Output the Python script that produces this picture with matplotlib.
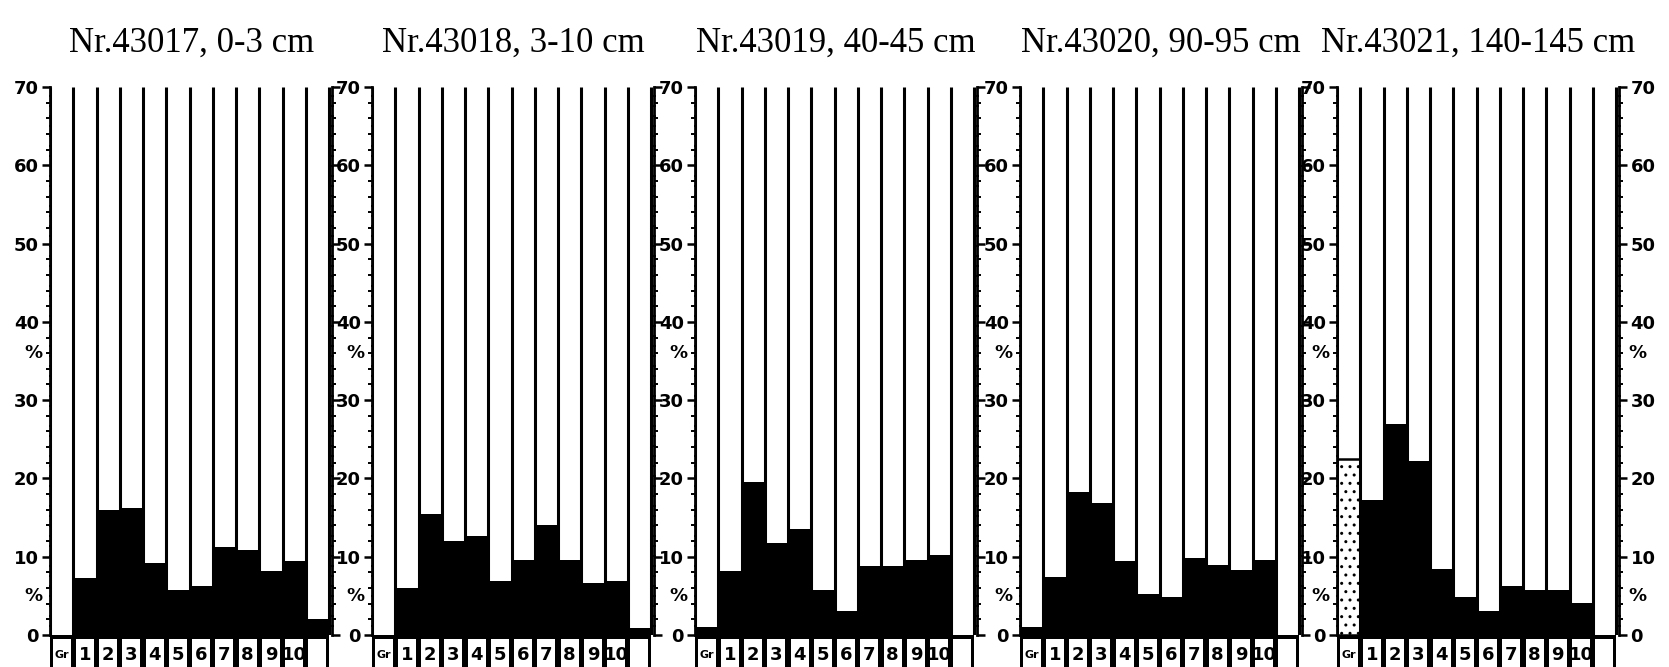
import matplotlib
matplotlib.use("Agg")
import matplotlib.pyplot as plt
from matplotlib.patches import Rectangle

# === DATA ===
fractions = ["Gr", "1", "2", "3", "4", "5", "6", "7", "8", "9", "10", ""]
titles = ["Nr.43017, 0-3 cm", "Nr.43018, 3-10 cm", "Nr.43019, 40-45 cm",
          "Nr.43020, 90-95 cm", "Nr.43021, 140-145 cm"]

# percentage per fraction (Gr, 1..10, rest)
nr43017 = [0.0, 7.3, 16.0, 16.2, 9.2, 5.8, 6.2, 11.3, 10.9, 8.2, 9.4, 2.0]
nr43018 = [0.0, 6.0, 15.5, 12.0, 12.6, 6.9, 9.6, 14.0, 9.6, 6.6, 6.9, 0.9]
nr43019 = [1.0, 8.2, 19.5, 11.8, 13.5, 5.7, 3.1, 8.8, 8.8, 9.6, 10.2, 0.0]
nr43020 = [1.0, 7.4, 18.3, 16.8, 9.4, 5.2, 4.8, 9.8, 8.9, 8.3, 9.6, 0.0]
nr43021 = [22.5, 17.3, 27.0, 22.2, 8.4, 4.9, 3.1, 6.3, 5.8, 5.7, 4.1, 0.0]
samples = [nr43017, nr43018, nr43019, nr43020, nr43021]
gravel_stippled = [False, False, False, False, True]

YMAX = 70

# === LAYOUT (pixels) ===
W, H = 1669, 667
panel_left = [50, 372, 695, 1020, 1337]
col_px = 23.25
x_lo, x_hi = -0.5, 11.65
y0_px, y70_px = 635, 87

plt.rcParams['font.family'] = ['DejaVu Sans']
fig = plt.figure(figsize=(W / 100, H / 100), dpi=100)
fig.patch.set_facecolor("white")

bottom = (H - y0_px) / H
height = (y0_px - y70_px) / H
width_px = (x_hi - x_lo) * col_px

for k, (vals, title) in enumerate(zip(samples, titles)):
    ax = fig.add_axes([panel_left[k] / W, bottom, width_px / W, height])
    xs = list(range(len(fractions)))

    # solid black columns; gravel is stippled where marked
    if gravel_stippled[k]:
        ax.bar(xs[1:], vals[1:], width=1.0, color="black", linewidth=0, zorder=2)
        ax.bar(xs[0], vals[0], width=1.0, color="white", edgecolor="black",
               hatch="..", linewidth=1.8, zorder=2)
    else:
        ax.bar(xs, vals, width=1.0, color="black", linewidth=0, zorder=2)

    # column dividers from 0 up to 70
    ax.vlines([i - 0.5 for i in range(len(fractions) + 1)], 0, YMAX,
              color="black", linewidth=2.2, zorder=3)

    # label boxes under the baseline
    ax.add_patch(Rectangle((-0.5, -6), len(fractions), 6, facecolor="black",
                           edgecolor="none", clip_on=False, zorder=4))
    for i, lab in enumerate(fractions):
        ax.add_patch(Rectangle((i - 0.39, -6), 0.78, 5.5, facecolor="white",
                               edgecolor="none", clip_on=False, zorder=5))
        ax.text(i, -2.6, lab, ha="center", va="center",
                fontsize=13 if lab != "Gr" else 8, fontweight="bold",
                clip_on=False, zorder=6)

    ax.set_xlim(x_lo, x_hi)
    ax.set_ylim(0, YMAX)
    ax.set_xticks([])
    ax.set_yticks(range(0, YMAX + 1, 10))
    ax.set_yticks(range(0, YMAX + 1, 2), minor=True)
    last = k == len(samples) - 1
    ax.tick_params(axis="y", which="major", direction="out", length=6, width=1.8,
                   labelsize=13, left=True, right=True, labelright=last, pad=2)
    ax.tick_params(axis="y", which="minor", direction="out", length=3, width=1.4,
                   left=True, right=True)
    for t in ax.get_yticklabels():
        t.set_fontweight("bold")

    for side in ("top", "bottom"):
        ax.spines[side].set_visible(False)
    for side in ("left", "right"):
        ax.spines[side].set_linewidth(2.0)
        ax.spines[side].set_linestyle((0, (3, 0.6)))

    # percent marks beside the scale
    for yv in (36, 5):
        ax.text(-0.06, yv, "%", transform=ax.get_yaxis_transform(), ha="center",
                va="center", fontsize=13, fontweight="bold")
        if last:
            ax.text(1.065, yv, "%", transform=ax.get_yaxis_transform(), ha="center",
                    va="center", fontsize=13, fontweight="bold")

    cx = (panel_left[k] + width_px / 2) / W
    fig.text(cx, (H - 43) / H, title, ha="center", va="center",
             fontsize=25, family="Liberation Serif")

fig.savefig("out.png", dpi=100)
